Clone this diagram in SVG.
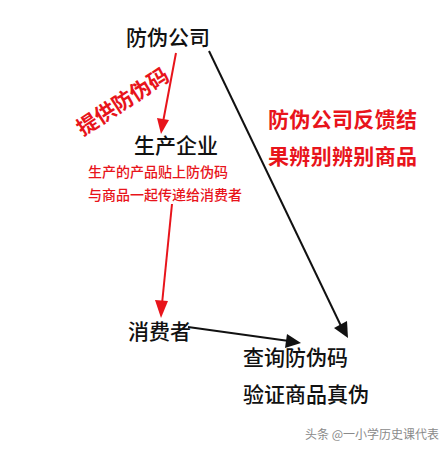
<svg xmlns="http://www.w3.org/2000/svg" width="440" height="450" viewBox="0 0 440 450">
<style>
.k{font-family:"Noto Sans CJK SC","Noto Sans",sans-serif;font-size:21px;fill:#111;font-weight:500}
.r{font-family:"Noto Sans CJK SC","Noto Sans",sans-serif;font-size:21px;fill:#e8141b;font-weight:700}
.rs{font-family:"Noto Sans CJK SC","Noto Sans",sans-serif;font-size:14px;fill:#e8141b;font-weight:500}
.w{font-family:"Noto Sans CJK SC","Noto Sans",sans-serif;font-size:12px;fill:#8a8a8a}
.lk{stroke:#111;stroke-width:2;fill:none}
.lr{stroke:#e8141b;stroke-width:2;fill:none}
.hk{fill:#111}
.hr{fill:#e8141b}
</style>
<rect width="440" height="450" fill="#fff"/>
<g id="connectors">
<path d="M176,53 L163,122" class="lr"/>
<path class="hr" d="M157,118 L161,134 L169,120 z"/>
<path d="M172,204 L162,304" class="lr"/>
<path class="hr" d="M155,300 L161,318 L168,301 z"/>
<path d="M209,51 L341,326" class="lk"/>
<path class="hk" d="M334,328 L348,338 L347,321 z"/>
<path d="M188,327 L289,341" class="lk"/>
<path class="hk" d="M287,334 L301,343 L285,348 z"/>
</g>
<g id="n1"><text class="k" x="168" y="45" text-anchor="middle">防伪公司</text></g>
<g id="l1"><text class="r" x="123" y="109" text-anchor="middle" transform="rotate(-33 123 102)">提供防伪码</text></g>
<g id="n2"><text class="k" x="176" y="153" text-anchor="middle">生产企业</text></g>
<g id="l2"><text class="rs" x="88" y="177">生产的产品贴上防伪码</text><text class="rs" x="88" y="200">与商品一起传递给消费者</text></g>
<g id="l3"><text class="r" x="268" y="127" textLength="149">防伪公司反馈结</text><text class="r" x="268" y="164" textLength="149">果辨别辨别商品</text></g>
<g id="n3"><text class="k" x="128" y="339">消费者</text></g>
<g id="n4"><text class="k" x="243" y="365">查询防伪码</text><text class="k" x="243" y="402">验证商品真伪</text></g>
<g id="wm"><text class="w" x="305" y="439">头条 @一小学历史课代表</text></g>
</svg>
